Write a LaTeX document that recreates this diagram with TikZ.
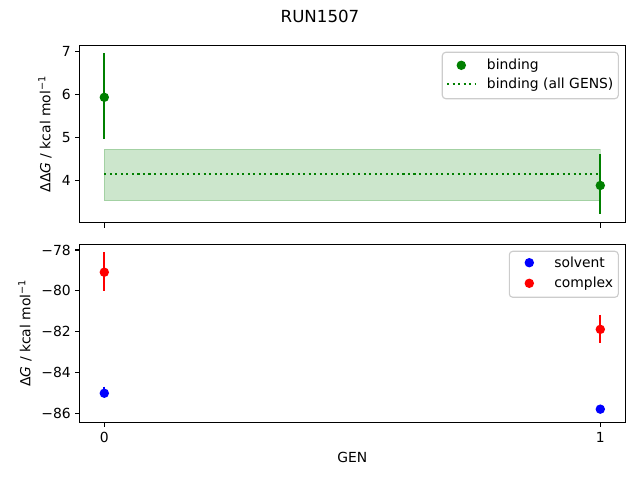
\documentclass[tikz,border=0pt]{standalone}
\usepackage{fontspec}
\setmainfont{DejaVu Sans}

\begin{document}
\begin{tikzpicture}[x=0.72pt,y=-0.72pt,font=\fontsize{10}{12}\selectfont,
  dot/.style={circle,inner sep=0pt,minimum size=6.8pt},
  bar/.style={line width=1.5pt},
  spine/.style={line width=0.8pt},
  band/.style={fill=green!50!black,fill opacity=0.2,draw=green!50!black,draw opacity=0.2},
  avg/.style={green!50!black,line width=1.5pt,dash pattern=on 1.5pt off 2.475pt},
  legbox/.style={draw=black!20,fill=white,fill opacity=0.8,rounded corners=2.5pt,line width=0.8pt}]

  \useasboundingbox (0,0) rectangle (640,480);

  \node (title) at (320,16) {\fontsize{12}{14}\selectfont RUN1507};

  % upper panel: binding
  \begin{scope}[shift={(104.3,352.3)},x=357.12pt,y=30.96pt]
    \path[band] (0,3.53) rectangle (1,4.73);
    \coordinate (avgl) at (0,4.15);
    \coordinate (avgr) at (1,4.15);
    \draw[avg] (avgl) -- (avgr);
    \coordinate (b0t) at (0,6.95);
    \coordinate (b0b) at (0,4.95);
    \coordinate (b1t) at (1,4.61);
    \coordinate (b1b) at (1,3.21);
    \draw[bar,green!50!black] (b0t) -- (b0b);
    \draw[bar,green!50!black] (b1t) -- (b1b);
    \node[dot,fill=green!50!black] (b0) at (0,5.93) {};
    \node[dot,fill=green!50!black] (b1) at (1,3.88) {};
  \end{scope}

  \draw[spine] (79.5,45.3) rectangle (625.1,222.6);
  \foreach \v/\py in {7/51.3,6/94.3,5/137.3,4/180.3}{
    \draw[spine] (79.5,\py) -- (74.6,\py);
    \node[anchor=east,inner sep=0pt] (yt\v) at (71,\py) {\v};
  }
  \foreach \px in {104.3,600.3}
    \draw[spine] (\px,222.6) -- (\px,227.5);
  \node[rotate=90] (ylabtop) at (45,134) {ΔΔ\textit{G} / kcal mol\textsuperscript{−1}};

  % legend upper
  \draw[legbox] (442.3,52.3) rectangle (618.3,98.7);
  \node[dot,fill=green!50!black] (lgb) at (461.3,65.3) {};
  \node[anchor=west,inner sep=0pt] (lgbt) at (486.7,65.3) {binding};
  \coordinate (lgal) at (447,84.3);
  \coordinate (lgar) at (475,84.3);
  \draw[avg] (lgal) -- (lgar);
  \node[anchor=west,inner sep=0pt] (lgat) at (486.7,84.3) {binding (all GENS)};

  % lower panel: solvent / complex
  \begin{scope}[shift={(104.3,-1342)},x=357.12pt,y=14.695pt]
    \coordinate (c0t) at (0,-78.1);
    \coordinate (c0b) at (0,-80.0);
    \coordinate (c1t) at (1,-81.18);
    \coordinate (c1b) at (1,-82.54);
    \coordinate (s0t) at (0,-84.70);
    \coordinate (s0b) at (0,-85.15);
    \coordinate (s1t) at (1,-85.64);
    \coordinate (s1b) at (1,-85.90);
    \draw[bar,red] (c0t) -- (c0b);
    \draw[bar,red] (c1t) -- (c1b);
    \draw[bar,blue] (s0t) -- (s0b);
    \draw[bar,blue] (s1t) -- (s1b);
    \node[dot,fill=red] (c0) at (0,-79.09) {};
    \node[dot,fill=red] (c1) at (1,-81.89) {};
    \node[dot,fill=blue] (s0) at (0,-85.02) {};
    \node[dot,fill=blue] (s1) at (1,-85.80) {};
  \end{scope}

  \draw[spine] (79.5,244.3) rectangle (625.1,422.3);
  \foreach \v/\py in {78/250,80/290.7,82/331.6,84/372.4,86/413.3}{
    \draw[spine] (79.5,\py) -- (74.6,\py);
    \node[anchor=east,inner sep=0pt] (ytb\v) at (71,\py) {−\v};
  }
  \foreach \v/\px in {0/104.3,1/600.3}{
    \draw[spine] (\px,422.3) -- (\px,427.2);
    \node[inner sep=0pt] (xt\v) at (\px,437.5) {\v};
  }
  \node[rotate=90] (ylabbot) at (25,333) {Δ\textit{G} / kcal mol\textsuperscript{−1}};
  \node (xlab) at (352.3,457.5) {GEN};

  % legend lower
  \draw[legbox] (509.3,251.3) rectangle (618.3,297.3);
  \node[dot,fill=blue] (lgs) at (529.3,262.7) {};
  \node[anchor=west,inner sep=0pt] (lgst) at (554,262.7) {solvent};
  \node[dot,fill=red] (lgc) at (529.3,283.3) {};
  \node[anchor=west,inner sep=0pt] (lgct) at (554,283.3) {complex};

\end{tikzpicture}
\end{document}
